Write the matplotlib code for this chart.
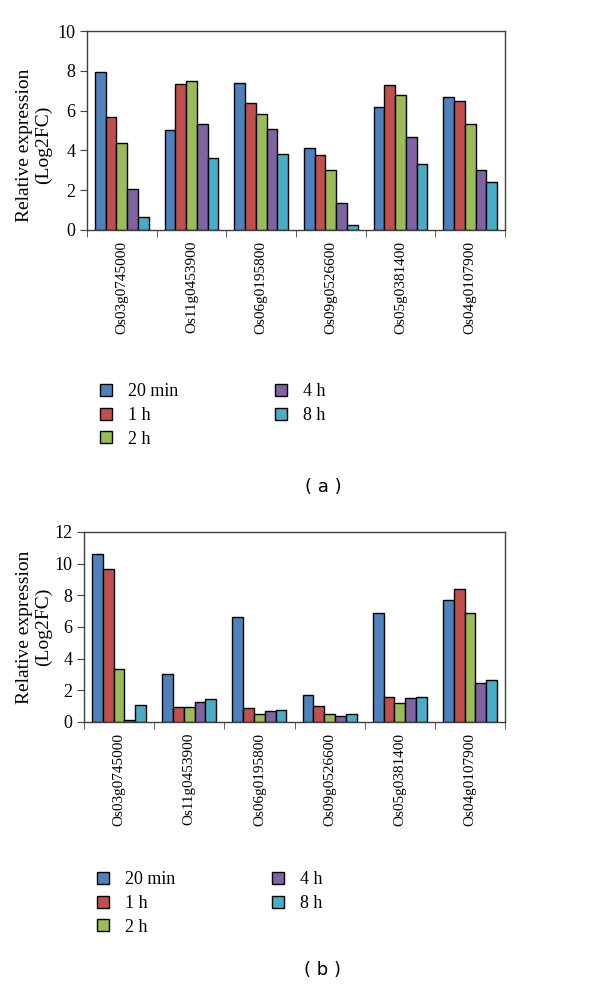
import numpy as np
import matplotlib.pyplot as plt
from matplotlib.lines import Line2D

genes = ["Os03g0745000", "Os11g0453900", "Os06g0195800",
         "Os09g0526600", "Os05g0381400", "Os04g0107900"]
times = ["20 min", "1 h", "2 h", "4 h", "8 h"]
colors = ["#4F81BD", "#C0504D", "#9BBB59", "#8064A2", "#4BACC6"]

# panel (a): one list per time point, one value per gene
vals_a_20min = [7.96, 5.03, 7.39, 4.12, 6.20, 6.67]
vals_a_1h = [5.70, 7.32, 6.38, 3.75, 7.29, 6.50]
vals_a_2h = [4.35, 7.49, 5.81, 3.00, 6.77, 5.34]
vals_a_4h = [2.04, 5.31, 5.06, 1.37, 4.66, 3.03]
vals_a_8h = [0.64, 3.60, 3.80, 0.25, 3.33, 2.43]

# panel (b)
vals_b_20min = [10.60, 3.04, 6.63, 1.73, 6.91, 7.73]
vals_b_1h = [9.68, 0.97, 0.89, 1.01, 1.58, 8.43]
vals_b_2h = [3.32, 0.93, 0.49, 0.49, 1.23, 6.89]
vals_b_4h = [0.10, 1.27, 0.72, 0.36, 1.54, 2.49]
vals_b_8h = [1.10, 1.46, 0.74, 0.49, 1.56, 2.66]

series_a = [vals_a_20min, vals_a_1h, vals_a_2h, vals_a_4h, vals_a_8h]
series_b = [vals_b_20min, vals_b_1h, vals_b_2h, vals_b_4h, vals_b_8h]

serif = ["Liberation Serif", "DejaVu Serif"]
W, H = 600, 986
fig = plt.figure(figsize=(W / 100, H / 100), dpi=100)


def px_axes(left, top, right, bottom):
    return fig.add_axes([left / W, 1 - bottom / H, (right - left) / W, (bottom - top) / H])


def draw_panel(ax, series, ymax, ystep, label_xy):
    x = np.arange(len(genes))
    w = 0.154
    for j, vals in enumerate(series):
        ax.bar(x + (j - 2) * w, vals, width=w, color=colors[j],
               edgecolor="black", linewidth=1.0)
    ax.set_xlim(-0.5, len(genes) - 0.5)
    ax.set_ylim(0, ymax)
    ax.set_yticks(np.arange(0, ymax + 0.1, ystep))
    ax.set_xticks(x)
    ax.set_xticklabels(genes, rotation=90, family=serif, fontsize=11)
    ax.set_xticks(np.arange(-0.5, len(genes)), minor=True)
    ax.tick_params(axis="x", which="major", length=0, pad=8)
    ax.tick_params(axis="x", which="minor", length=5, direction="out", color="#404040")
    ax.tick_params(axis="y", length=5, direction="out", color="#404040", labelsize=13)
    for lab in ax.get_yticklabels():
        lab.set_family(serif)
    for s in ax.spines.values():
        s.set_color("#404040")
        s.set_linewidth(1.0)
    ax.set_ylabel("Relative expression\n(Log2FC)", family=serif, fontsize=14,
                  linespacing=1.15)
    ax.yaxis.set_label_coords(*label_xy)


def draw_legend(y_top, x_left):
    handles = [Line2D([], [], marker="s", linestyle="none", markersize=9,
                      markerfacecolor=c, markeredgecolor="black", markeredgewidth=1.0)
               for c in colors]
    fig.legend(handles, times, loc="upper left", ncol=2, frameon=False,
               bbox_to_anchor=(x_left / W, 1 - y_top / H),
               prop={"family": serif, "size": 13}, handlelength=0.8,
               handletextpad=0.8, columnspacing=5.3, labelspacing=0.38,
               borderaxespad=0, borderpad=0)


ax_a = px_axes(87, 31, 505, 230)
draw_panel(ax_a, series_a, 10, 2, (-0.084, 0.427))
draw_legend(383, 99)
fig.text(323 / W, 1 - 487 / H, "( a )", ha="center", va="center", fontsize=13)

ax_b = px_axes(84, 532, 505, 722)
draw_panel(ax_b, series_b, 12, 2, (-0.076, 0.5))
draw_legend(871, 96)
fig.text(323 / W, 1 - 970 / H, "( b )", ha="center", va="center", fontsize=13)

plt.savefig("out.png", dpi=100)
